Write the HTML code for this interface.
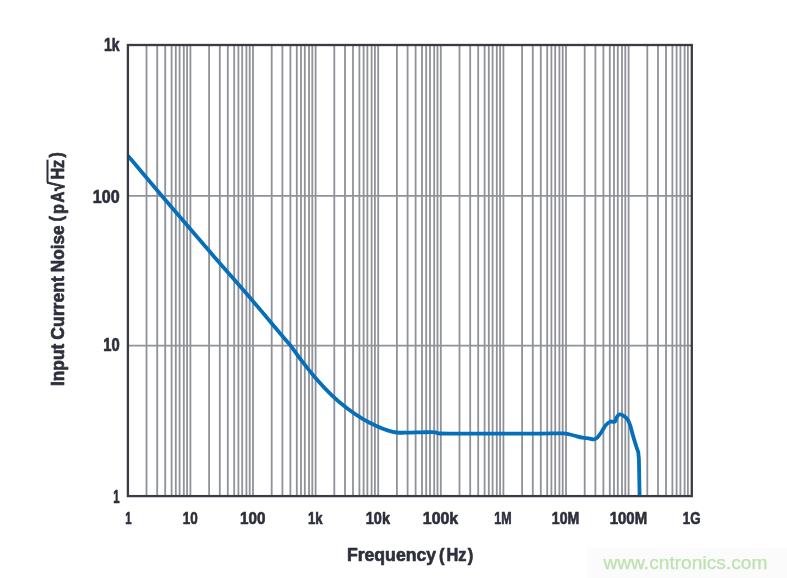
<!DOCTYPE html>
<html><head><meta charset="utf-8"><title>Input Current Noise</title><style>html,body{margin:0;padding:0;background:#fff}body{width:787px;height:578px;overflow:hidden}</style></head><body>
<svg width="787" height="578" viewBox="0 0 787 578" style="display:block">
<rect width="787" height="578" fill="#fff"/>
<path d="M146.50 45.0V496.1M157.20 45.0V496.1M165.20 45.0V496.1M171.60 45.0V496.1M175.80 45.0V496.1M179.60 45.0V496.1M183.80 45.0V496.1M187.10 45.0V496.1M190.40 45.0V496.1M209.10 45.0V496.1M219.80 45.0V496.1M227.80 45.0V496.1M234.20 45.0V496.1M238.40 45.0V496.1M242.20 45.0V496.1M246.40 45.0V496.1M249.70 45.0V496.1M253.00 45.0V496.1M271.70 45.0V496.1M282.40 45.0V496.1M290.40 45.0V496.1M296.80 45.0V496.1M301.00 45.0V496.1M304.80 45.0V496.1M309.00 45.0V496.1M312.30 45.0V496.1M315.60 45.0V496.1M334.30 45.0V496.1M345.00 45.0V496.1M353.00 45.0V496.1M359.40 45.0V496.1M363.60 45.0V496.1M367.40 45.0V496.1M371.60 45.0V496.1M374.90 45.0V496.1M378.20 45.0V496.1M396.90 45.0V496.1M407.60 45.0V496.1M415.60 45.0V496.1M422.00 45.0V496.1M426.20 45.0V496.1M430.00 45.0V496.1M434.20 45.0V496.1M437.50 45.0V496.1M440.80 45.0V496.1M459.50 45.0V496.1M470.20 45.0V496.1M478.20 45.0V496.1M484.60 45.0V496.1M488.80 45.0V496.1M492.60 45.0V496.1M496.80 45.0V496.1M500.10 45.0V496.1M503.40 45.0V496.1M522.10 45.0V496.1M532.80 45.0V496.1M540.80 45.0V496.1M547.20 45.0V496.1M551.40 45.0V496.1M555.20 45.0V496.1M559.40 45.0V496.1M562.70 45.0V496.1M566.00 45.0V496.1M584.70 45.0V496.1M595.40 45.0V496.1M603.40 45.0V496.1M609.80 45.0V496.1M614.00 45.0V496.1M617.80 45.0V496.1M622.00 45.0V496.1M625.30 45.0V496.1M628.60 45.0V496.1M647.30 45.0V496.1M658.00 45.0V496.1M666.00 45.0V496.1M672.40 45.0V496.1M676.60 45.0V496.1M680.40 45.0V496.1M684.60 45.0V496.1M687.90 45.0V496.1" stroke="#909299" stroke-width="1.8" fill="none"/>
<path d="M127.9 195.8H691.8M127.9 345.7H691.8" stroke="#909299" stroke-width="1.8" fill="none"/>
<path d="M128.00 155.80C133.48 162.30 148.90 180.73 160.90 194.80C172.90 208.87 190.83 229.53 200.00 240.20C209.17 250.87 207.07 248.63 215.90 258.80C224.73 268.97 242.32 288.78 253.00 301.20C263.68 313.62 273.77 325.93 280.00 333.30C286.23 340.67 286.95 341.03 290.40 345.40C293.85 349.77 296.55 354.12 300.70 359.50C304.85 364.88 310.10 371.72 315.30 377.70C320.50 383.68 326.72 390.38 331.90 395.40C337.08 400.42 341.22 403.83 346.40 407.80C351.58 411.77 357.82 416.08 363.00 419.20C368.18 422.32 373.28 424.60 377.50 426.50C381.72 428.40 385.12 429.60 388.30 430.60C391.48 431.60 393.48 432.15 396.60 432.50C399.72 432.85 402.85 432.73 407.00 432.70C411.15 432.67 417.35 432.40 421.50 432.30C425.65 432.20 429.48 432.07 431.90 432.10C434.32 432.13 434.62 432.27 436.00 432.50C437.38 432.73 436.20 433.32 440.20 433.50C444.20 433.68 450.03 433.58 460.00 433.60C469.97 433.62 486.67 433.60 500.00 433.60C513.33 433.60 530.00 433.63 540.00 433.60C550.00 433.57 555.65 433.40 560.00 433.40C564.35 433.40 563.80 433.25 566.10 433.60C568.40 433.95 571.07 434.82 573.80 435.50C576.53 436.18 580.05 437.22 582.50 437.70C584.95 438.18 586.63 438.12 588.50 438.40C590.37 438.68 592.25 439.52 593.70 439.40C595.15 439.28 595.90 438.93 597.20 437.70C598.50 436.47 600.07 434.10 601.50 432.00C602.93 429.90 604.35 426.83 605.80 425.10C607.25 423.37 609.03 422.15 610.20 421.60C611.37 421.05 612.00 421.80 612.80 421.80C613.60 421.80 614.35 422.35 615.00 421.60C615.65 420.85 615.92 418.50 616.70 417.30C617.48 416.10 618.48 414.60 619.70 414.40C620.92 414.20 622.70 415.27 624.00 416.10C625.30 416.93 626.48 417.90 627.50 419.40C628.52 420.90 629.23 422.57 630.10 425.10C630.97 427.63 631.70 431.15 632.70 434.60C633.70 438.05 635.18 442.92 636.10 445.80C637.02 448.68 637.85 450.88 638.20 451.90L638.9 458.8L639.6 495.2" fill="none" stroke="#066fba" stroke-width="3.8" stroke-linejoin="round" stroke-linecap="butt"/>
<rect x="127.9" y="45.0" width="563.90" height="451.10" fill="none" stroke="#383a46" stroke-width="2.3"/>
<text x="128.4" y="523.7" font-family="Liberation Sans, sans-serif" font-weight="bold" font-size="17" fill="#2d2f3c" stroke="#2d2f3c" stroke-width="0.65" stroke-linejoin="round" text-anchor="middle" textLength="6.3" lengthAdjust="spacingAndGlyphs">1</text>
<text x="190.3" y="523.7" font-family="Liberation Sans, sans-serif" font-weight="bold" font-size="17" fill="#2d2f3c" stroke="#2d2f3c" stroke-width="0.65" stroke-linejoin="round" text-anchor="middle" textLength="15" lengthAdjust="spacingAndGlyphs">10</text>
<text x="252.8" y="523.7" font-family="Liberation Sans, sans-serif" font-weight="bold" font-size="17" fill="#2d2f3c" stroke="#2d2f3c" stroke-width="0.65" stroke-linejoin="round" text-anchor="middle" textLength="25.4" lengthAdjust="spacingAndGlyphs">100</text>
<text x="315.2" y="523.7" font-family="Liberation Sans, sans-serif" font-weight="bold" font-size="17" fill="#2d2f3c" stroke="#2d2f3c" stroke-width="0.65" stroke-linejoin="round" text-anchor="middle" textLength="14.6" lengthAdjust="spacingAndGlyphs">1k</text>
<text x="377.9" y="523.7" font-family="Liberation Sans, sans-serif" font-weight="bold" font-size="17" fill="#2d2f3c" stroke="#2d2f3c" stroke-width="0.65" stroke-linejoin="round" text-anchor="middle" textLength="24.2" lengthAdjust="spacingAndGlyphs">10k</text>
<text x="440.5" y="523.7" font-family="Liberation Sans, sans-serif" font-weight="bold" font-size="17" fill="#2d2f3c" stroke="#2d2f3c" stroke-width="0.65" stroke-linejoin="round" text-anchor="middle" textLength="35.4" lengthAdjust="spacingAndGlyphs">100k</text>
<text x="503" y="523.7" font-family="Liberation Sans, sans-serif" font-weight="bold" font-size="17" fill="#2d2f3c" stroke="#2d2f3c" stroke-width="0.65" stroke-linejoin="round" text-anchor="middle" textLength="17.3" lengthAdjust="spacingAndGlyphs">1M</text>
<text x="565.5" y="523.7" font-family="Liberation Sans, sans-serif" font-weight="bold" font-size="17" fill="#2d2f3c" stroke="#2d2f3c" stroke-width="0.65" stroke-linejoin="round" text-anchor="middle" textLength="27.4" lengthAdjust="spacingAndGlyphs">10M</text>
<text x="628.4" y="523.7" font-family="Liberation Sans, sans-serif" font-weight="bold" font-size="17" fill="#2d2f3c" stroke="#2d2f3c" stroke-width="0.65" stroke-linejoin="round" text-anchor="middle" textLength="37.4" lengthAdjust="spacingAndGlyphs">100M</text>
<text x="691.7" y="523.7" font-family="Liberation Sans, sans-serif" font-weight="bold" font-size="17" fill="#2d2f3c" stroke="#2d2f3c" stroke-width="0.65" stroke-linejoin="round" text-anchor="middle" textLength="17.7" lengthAdjust="spacingAndGlyphs">1G</text>
<text x="119.6" y="50.7" font-family="Liberation Sans, sans-serif" font-weight="bold" font-size="17.5" fill="#2d2f3c" stroke="#2d2f3c" stroke-width="0.65" stroke-linejoin="round" text-anchor="end" textLength="15.6" lengthAdjust="spacingAndGlyphs">1k</text>
<text x="119.6" y="203.0" font-family="Liberation Sans, sans-serif" font-weight="bold" font-size="17.5" fill="#2d2f3c" stroke="#2d2f3c" stroke-width="0.65" stroke-linejoin="round" text-anchor="end" textLength="26.8" lengthAdjust="spacingAndGlyphs">100</text>
<text x="119.6" y="351.2" font-family="Liberation Sans, sans-serif" font-weight="bold" font-size="17.5" fill="#2d2f3c" stroke="#2d2f3c" stroke-width="0.65" stroke-linejoin="round" text-anchor="end" textLength="16.4" lengthAdjust="spacingAndGlyphs">10</text>
<text x="119.6" y="502.8" font-family="Liberation Sans, sans-serif" font-weight="bold" font-size="17.5" fill="#2d2f3c" stroke="#2d2f3c" stroke-width="0.65" stroke-linejoin="round" text-anchor="end" textLength="6.3" lengthAdjust="spacingAndGlyphs">1</text>
<g transform="translate(0,560.5)">
<text y="0" font-family="Liberation Sans, sans-serif" font-weight="bold" font-size="18.3" fill="#2d2f3c" stroke="#2d2f3c" stroke-width="0.65" stroke-linejoin="round" text-anchor="start"><tspan x="346.90" textLength="89.20" lengthAdjust="spacingAndGlyphs">Frequency</tspan> <tspan x="439.00" textLength="5.50" lengthAdjust="spacingAndGlyphs">(</tspan><tspan x="446.40" textLength="20.00" lengthAdjust="spacingAndGlyphs">Hz</tspan><tspan x="467.80" textLength="5.50" lengthAdjust="spacingAndGlyphs">)</tspan></text>
</g>
<g transform="translate(63.7,385) rotate(-90)">
<text y="0" font-family="Liberation Sans, sans-serif" font-weight="bold" font-size="18.3" fill="#2d2f3c" stroke="#2d2f3c" stroke-width="0.65" stroke-linejoin="round" text-anchor="start"><tspan x="-1.00" textLength="42.20" lengthAdjust="spacingAndGlyphs">Input</tspan> <tspan x="45.30" textLength="63.60" lengthAdjust="spacingAndGlyphs">Current</tspan> <tspan x="112.80" textLength="46.90" lengthAdjust="spacingAndGlyphs">Noise</tspan> <tspan x="163.60" textLength="5.50" lengthAdjust="spacingAndGlyphs" dy="-1.8">(</tspan><tspan x="171.00" textLength="10.00" lengthAdjust="spacingAndGlyphs" dy="1.8">p</tspan><tspan x="182.60" textLength="10.90" lengthAdjust="spacingAndGlyphs">A</tspan><tspan x="194.30" textLength="8.70" lengthAdjust="spacingAndGlyphs" font-size="21" style="stroke-width:1.1">√</tspan><tspan x="205.40" textLength="19.80" lengthAdjust="spacingAndGlyphs">Hz</tspan><tspan x="227.40" textLength="5.40" lengthAdjust="spacingAndGlyphs" dy="-1.8">)</tspan></text>
<path d="M202.4 -16.2H225.3" stroke="#2d2f3c" stroke-width="2.0" fill="none"/>
</g>
<rect x="587" y="547.5" width="200" height="30.5" fill="#fbfbfb"/>
<text x="767.4" y="568.5" font-family="Liberation Sans, sans-serif" font-size="19" fill="#bee1b1" stroke="#bee1b1" stroke-width="0.25" text-anchor="end" textLength="164" lengthAdjust="spacingAndGlyphs">www.cntronics.com</text>
</svg>
</body></html>
